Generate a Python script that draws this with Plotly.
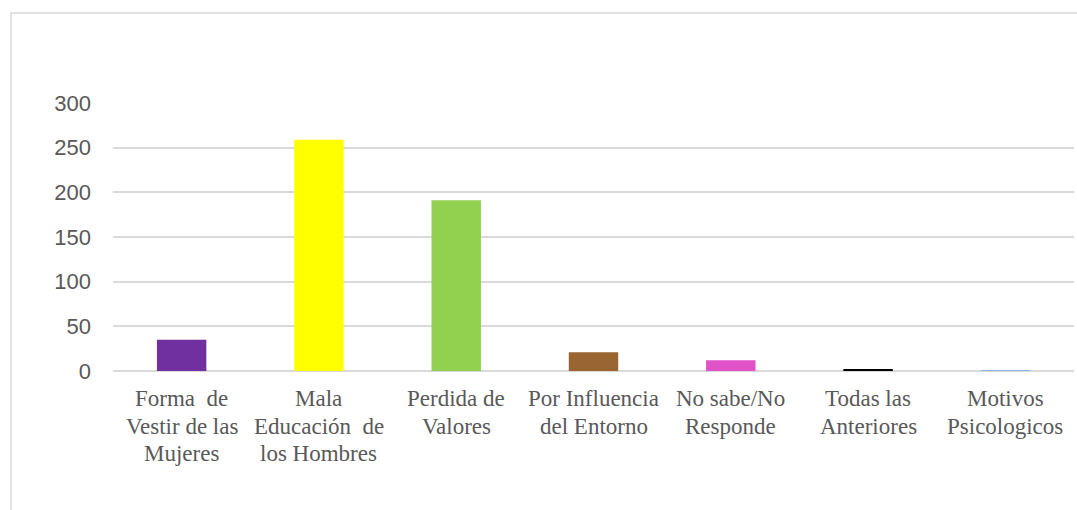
import plotly.graph_objects as go

categories = [
    "Forma\u00a0 de<br>Vestir de las<br>Mujeres",
    "Mala<br>Educación\u00a0 de<br>los Hombres",
    "Perdida de<br>Valores",
    "Por Influencia<br>del Entorno",
    "No sabe/No<br>Responde",
    "Todas las<br>Anteriores",
    "Motivos<br>Psicologicos",
]
values = [35, 259, 191, 21, 12, 2, 1]
colors = ["#7030A0", "#FFFF00", "#92D050", "#996633", "#E052C8", "#000000", "#8EB4E3"]
y_ticks = [0, 50, 100, 150, 200, 250, 300]

W, H = 1077, 510
L, R, T, B = 113, 3, 103, 139
pw = W - L - R
ph = H - T - B
axis_py = H - B

fig = go.Figure(go.Bar(x=categories, y=values, marker=dict(color=colors, line=dict(width=0)),
                       width=0.36, hoverinfo="skip"))

annotations = []
for cat in categories:
    for i, line in enumerate(cat.split("<br>")):
        py = 398.5 + 27.5 * i
        annotations.append(dict(
            x=cat, xref="x", y=(axis_py - py) / ph, yref="paper",
            text=line, showarrow=False, xanchor="center", yanchor="middle",
            font=dict(family="Liberation Serif", size=23, color="#595959"),
        ))

fig.update_layout(
    width=W, height=H,
    margin=dict(l=L, r=R, t=T, b=B, autoexpand=False),
    paper_bgcolor="white", plot_bgcolor="white",
    showlegend=False,
    xaxis=dict(showgrid=False, showline=False, zeroline=False, ticks="",
               showticklabels=False),
    yaxis=dict(range=[0, 300], tickvals=y_ticks, showgrid=True, gridcolor="#D9D9D9",
               gridwidth=1.5, zeroline=True, zerolinecolor="#D9D9D9", zerolinewidth=1.5,
               showline=False, ticks="",
               tickfont=dict(family="Liberation Sans", size=22, color="#595959"),
               ticklabelstandoff=21),
    annotations=annotations,
    shapes=[dict(type="rect", xref="paper", yref="paper",
                 x0=(11 - L) / pw, x1=(W + 5 - L) / pw,
                 y0=(H - B - (H + 5)) / ph, y1=(H - B - 13) / ph,
                 line=dict(color="#D9D9D9", width=1.5), fillcolor="rgba(0,0,0,0)", layer="below")],
)

fig.write_html("out.html", config={"displayModeBar": False},
               post_script="document.body.style.margin='0';")
